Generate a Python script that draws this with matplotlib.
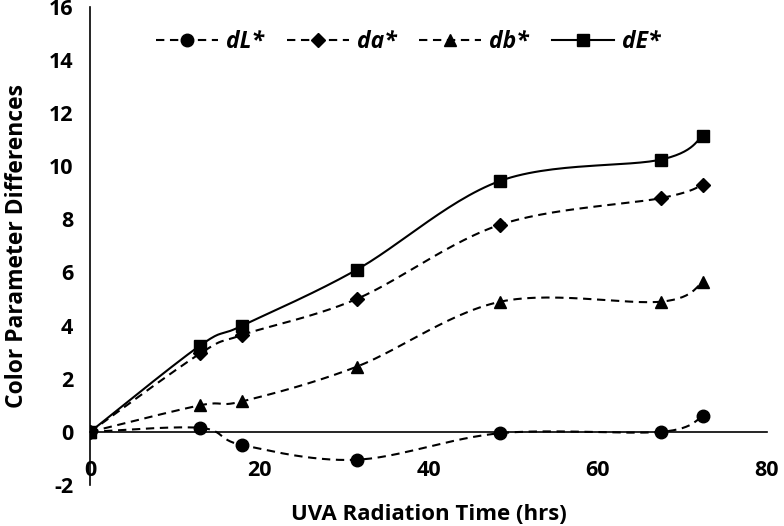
import numpy as np
import matplotlib.pyplot as plt

plt.rcParams['font.family'] = ['Open Sans', 'DejaVu Sans']
plt.rcParams['axes.unicode_minus'] = False

# UVA radiation time (hrs)
hours = [0, 13, 18, 31.5, 48.5, 67.5, 72.5]

dL = [0, 0.15, -0.5, -1.05, -0.05, 0.0, 0.6]
da = [0, 2.95, 3.65, 5.0, 7.8, 8.8, 9.3]
db = [0, 1.0, 1.15, 2.45, 4.9, 4.9, 5.65]
dE = [0, 3.25, 4.0, 6.1, 9.45, 10.25, 11.15]


def smooth(x, y, n=30):
    # Excel-style smoothed line (Catmull-Rom via cubic Bezier)
    x = np.asarray(x, float)
    y = np.asarray(y, float)
    p = np.column_stack([x, y])
    out = []
    for i in range(len(p) - 1):
        p0 = p[i - 1] if i > 0 else p[i]
        p1, p2 = p[i], p[i + 1]
        p3 = p[i + 2] if i + 2 < len(p) else p[i + 1]
        c1 = p1 + (p2 - p0) / 6.0
        c2 = p2 - (p3 - p1) / 6.0
        t = np.linspace(0, 1, n)[:, None]
        seg = ((1 - t) ** 3) * p1 + 3 * ((1 - t) ** 2) * t * c1 + 3 * (1 - t) * t ** 2 * c2 + t ** 3 * p2
        out.append(seg if i == 0 else seg[1:])
    s = np.vstack(out)
    return s[:, 0], s[:, 1]


fig = plt.figure(figsize=(7.84, 5.26), dpi=100)
ax = fig.add_axes([0.115, 0.078, 0.863, 0.909])

series = [
    (dL, 'o', '--', 'dL*', 9),
    (da, 'D', '--', 'da*', 7.5),
    (db, '^', '--', 'db*', 9),
    (dE, 's', '-', 'dE*', 9),
]
DASH = (4, 2.7)
handles = []
for vals, mk, ls, lab, ms in series:
    sx, sy = smooth(hours, vals)
    line_kw = dict(color='black', lw=1.5)
    if ls == '--':
        line_kw['dashes'] = DASH
    ax.plot(sx, sy, **line_kw)
    ax.plot(hours, vals, ls='none', marker=mk, color='black', markersize=ms)
    h, = ax.plot([], [], marker=mk, markersize=ms, **line_kw)
    handles.append(h)

ax.set_xlim(0, 80)
ax.set_ylim(-2, 16)
ax.set_xticks([0, 20, 40, 60, 80])
ax.set_yticks(np.arange(-2, 17, 2))

ax.spines['top'].set_visible(False)
ax.spines['right'].set_visible(False)
ax.spines['bottom'].set_position(('data', 0))
for sp in ['left', 'bottom']:
    ax.spines[sp].set_linewidth(1.2)
ax.tick_params(axis='x', length=0, pad=20, labelsize=15.5)
ax.tick_params(axis='y', length=0, pad=12, labelsize=15.5)
for lab in ax.get_xticklabels() + ax.get_yticklabels():
    lab.set_fontweight('bold')

ax.set_xlabel('UVA Radiation Time (hrs)', fontsize=16, fontweight='bold', labelpad=0)
ax.set_ylabel('Color Parameter Differences', fontsize=16.5, fontweight='bold', labelpad=14)
ax.xaxis.set_label_coords(0.5, -0.04)

leg = ax.legend(handles, [s[3] for s in series], loc='center',
                bbox_to_anchor=(0.47, 0.927), ncol=4, frameon=False,
                handlelength=2.7, columnspacing=1.0, handletextpad=0.35,
                prop={'weight': 'bold', 'style': 'italic', 'size': 16.5})

fig.savefig('out.png', dpi=100)
